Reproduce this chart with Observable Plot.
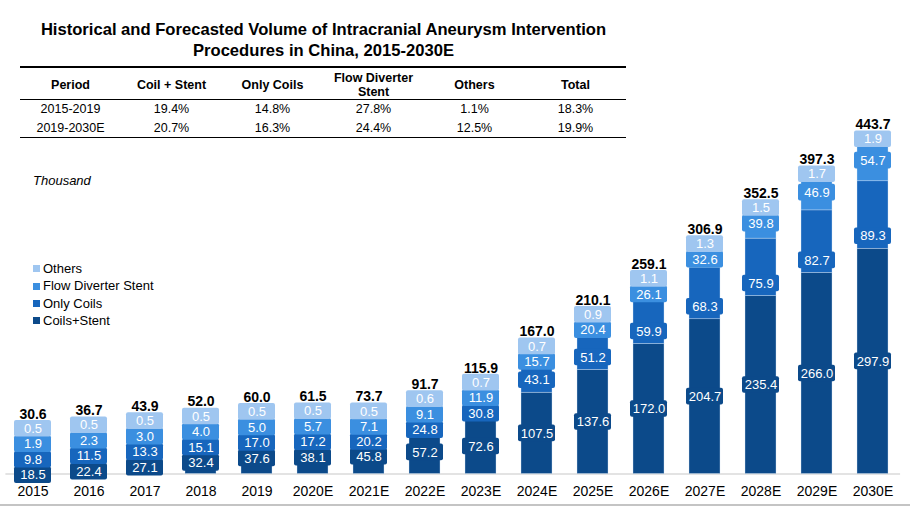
<!DOCTYPE html>
<html>
<head>
<meta charset="utf-8">
<script src="https://cdn.jsdelivr.net/npm/d3@7"></script>
<script src="https://cdn.jsdelivr.net/npm/@observablehq/plot@0.6"></script>
<style>
  html, body { margin: 0; padding: 0; background: #fff; }
  body { font-family: "Liberation Sans", Arial, sans-serif; color: #000; }
  #wrap { position: relative; width: 920px; height: 513px; overflow: hidden; }
  #chart { position: absolute; left: 0; top: 0; }
  #title { position: absolute; left: 0; top: 19px; width: 647px; text-align: center;
           font-weight: bold; font-size: 16.6px; line-height: 21px; }
  #tbl { position: absolute; left: 20px; top: 66px; width: 606px; border-collapse: collapse;
         table-layout: fixed; font-size: 12.5px; }
  #tbl th, #tbl td { text-align: center; padding: 0; }
  #tbl thead tr { border-top: 2px solid #000; border-bottom: 1.5px solid #000; height: 31px; }
  #tbl th { font-weight: bold; line-height: 14px; padding-top: 3px; }
  #tbl tbody tr { height: 19px; }
  #tbl tbody tr:last-child { border-bottom: 1.5px solid #000; }
  #unit { position: absolute; left: 33px; top: 173px; font-style: italic; font-size: 13px; }
  #legend { position: absolute; left: 33px; top: 260px; font-size: 13px; }
  #legend div { height: 17.4px; line-height: 17.4px; display: flex; align-items: center; }
  #legend span.sw { display: inline-block; width: 7px; height: 7px; margin-right: 3px; }
  #bottomline { position: absolute; left: 0; top: 504px; width: 910px; height: 2px; background: #c4c4c4; }
</style>
</head>
<body>
<div id="wrap">
  <div id="chart"></div>
  <div id="title"></div>
  <table id="tbl"><thead></thead><tbody></tbody></table>
  <div id="unit"></div>
  <div id="legend"></div>
  <div id="bottomline"></div>
</div>
<script>
// ---------- data ----------
const titleLines = ["Historical and Forecasted Volume of Intracranial Aneurysm Intervention",
                    "Procedures in China, 2015-2030E"];
const tableHeader = ["Period", "Coil + Stent", "Only Coils", "Flow Diverter<br>Stent", "Others", "Total"];
const tableRow1 = ["2015-2019", "19.4%", "14.8%", "27.8%", "1.1%", "18.3%"];
const tableRow2 = ["2019-2030E", "20.7%", "16.3%", "24.4%", "12.5%", "19.9%"];
const unitLabel = "Thousand";

const years = ["2015","2016","2017","2018","2019","2020E","2021E","2022E","2023E","2024E",
               "2025E","2026E","2027E","2028E","2029E","2030E"];
const seriesNames = ["Coils+Stent", "Only Coils", "Flow Diverter Stent", "Others"];
const seriesColors = ["#0c4a8a", "#1766bd", "#3b8fe0", "#9fc6f0"];
const coilsStent   = [18.5, 22.4, 27.1, 32.4, 37.6, 38.1, 45.8, 57.2, 72.6, 107.5, 137.6, 172.0, 204.7, 235.4, 266.0, 297.9];
const onlyCoils    = [9.8, 11.5, 13.3, 15.1, 17.0, 17.2, 20.2, 24.8, 30.8, 43.1, 51.2, 59.9, 68.3, 75.9, 82.7, 89.3];
const flowDiverter = [1.9, 2.3, 3.0, 4.0, 5.0, 5.7, 7.1, 9.1, 11.9, 15.7, 20.4, 26.1, 32.6, 39.8, 46.9, 54.7];
const others       = [0.5, 0.5, 0.5, 0.5, 0.5, 0.5, 0.5, 0.6, 0.7, 0.7, 0.9, 1.1, 1.3, 1.5, 1.7, 1.9];
const totals       = [30.6, 36.7, 43.9, 52.0, 60.0, 61.5, 73.7, 91.7, 115.9, 167.0, 210.1, 259.1, 306.9, 352.5, 397.3, 443.7];

// ---------- html parts ----------
document.getElementById("title").innerHTML = titleLines.join("<br>");
document.querySelector("#tbl thead").innerHTML = "<tr>" + tableHeader.map(h => `<th>${h}</th>`).join("") + "</tr>";
document.querySelector("#tbl tbody").innerHTML = [tableRow1, tableRow2]
  .map(r => "<tr>" + r.map(c => `<td>${c}</td>`).join("") + "</tr>").join("");
document.getElementById("unit").textContent = unitLabel;
document.getElementById("legend").innerHTML = seriesNames.map((s, i) => ({s, c: seriesColors[i]})).reverse()
  .map(d => `<div><span class="sw" style="background:${d.c}"></span>${d.s}</div>`).join("");

// ---------- chart ----------
const W = 920, H = 513, MT = 110.6, MB = 39.5, ML = 5.4, MR = 19.9, YMAX = 480;
const k = (H - MT - MB) / YMAX;          // pixels per thousand
const G = 15.5 / k;                       // min label spacing (data units)

const seriesValues = [coilsStent, onlyCoils, flowDiverter, others];
const segments = [];
years.forEach((y, i) => seriesNames.forEach((s, j) => segments.push({year: y, series: s, value: seriesValues[j][i]})));

const labels = [], totalLabels = [];
years.forEach((year, i) => {
  const v = seriesValues.map(a => a[i]);
  const c0 = v[0], c1 = c0 + v[1], c2 = c1 + v[2];
  const nat = [c0 / 2, c0 + Math.min(12.5 / k, v[1] / 2), c1 + v[2] / 2, c2 + v[3] / 2];
  // pool overlapping labels into clusters centred on the mean of their natural positions
  let clusters = [];
  nat.forEach((p, j) => {
    clusters.push({items: [j], sum: p});
    while (clusters.length > 1) {
      const b = clusters[clusters.length - 1], a = clusters[clusters.length - 2];
      const top = a.sum / a.items.length + (a.items.length - 1) / 2 * G;
      const bot = b.sum / b.items.length - (b.items.length - 1) / 2 * G;
      if (bot - top < G) { clusters.pop(); a.items = a.items.concat(b.items); a.sum += b.sum; }
      else break;
    }
  });
  const pos = [];
  clusters.forEach(cl => {
    const n = cl.items.length, m = cl.sum / n;
    const bias = n > 1 ? (cl.items[0] === 0 ? 4.5 / k : -3 / k) : 0;
    cl.items.forEach((j, t) => pos[j] = m + (t - (n - 1) / 2) * G + bias);
  });
  for (let j = 1; j < pos.length; j++) pos[j] = Math.max(pos[j], pos[j - 1] + 0.95 * G);
  pos.forEach((p, j) => labels.push({
    year, series: seriesNames[j], text: v[j].toFixed(1), pos: p,
    lo: p - 8.3 / k, hi: p + 8.3 / k
  }));
  totalLabels.push({year, text: totals[i].toFixed(1), pos: pos[3] + 14.5 / k});
});

const font = "'Liberation Sans', Arial, sans-serif";
const plot = Plot.plot({
  width: W, height: H,
  marginTop: MT, marginBottom: MB, marginLeft: ML, marginRight: MR,
  style: {fontFamily: font, color: "#000", background: "transparent", overflow: "visible"},
  x: {domain: years, paddingInner: 0.451, paddingOuter: 0.2, axis: null},
  y: {domain: [0, YMAX], axis: null},
  color: {domain: seriesNames, range: seriesColors},
  marks: [
    Plot.ruleY([0], {stroke: "#c8c8c8", strokeWidth: 1.2}),
    Plot.barY(segments, {x: "year", y: "value", fill: "series", order: null,
                         stroke: "#d6e6f7", strokeWidth: 0.6, strokeOpacity: 0.6}),
    Plot.barY(labels, {x: "year", y1: "lo", y2: "hi", fill: "series",
                       insetLeft: -3, insetRight: -3, rx: 2}),
    Plot.text(labels, {x: "year", y: "pos", text: "text", fill: "white", fontSize: 13}),
    Plot.text(totalLabels, {x: "year", y: "pos", text: "text", fill: "#000",
                            fontSize: 14, fontWeight: "bold"}),
    Plot.axisX({tickSize: 0, tickPadding: 12, fontSize: 14, label: null, fill: "#000"})
  ]
});
document.getElementById("chart").appendChild(plot);
</script>
</body>
</html>
